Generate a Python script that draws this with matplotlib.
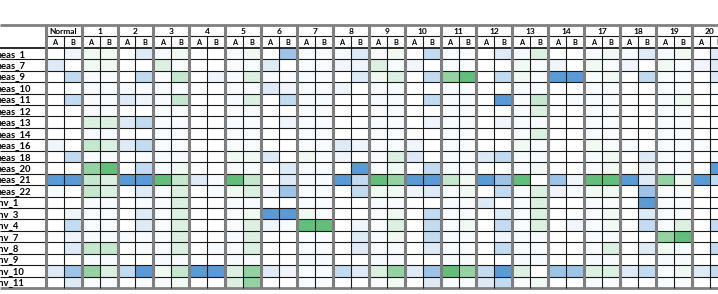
import numpy as np
import matplotlib
matplotlib.use("Agg")
import matplotlib.pyplot as plt
from matplotlib.colors import LinearSegmentedColormap, Normalize

# ---- data -------------------------------------------------------------
groups = ["Normal", "1", "2", "3", "4", "5", "6", "7", "8", "9", "10",
          "11", "12", "13", "14", "17", "18", "19", "20"]
subcols = ["A", "B"]
rows = ["meas_1", "meas_7", "meas_9", "meas_10", "meas_11", "meas_12",
        "meas_13", "meas_14", "meas_16", "meas_18", "meas_20", "meas_21",
        "meas_22", "env_1", "env_3", "env_4", "env_7", "env_8", "env_9",
        "env_10", "env_11"]

# value levels (negative = blue scale, positive = green scale)
W = 0.0; F = -0.04
b1 = -0.10; b2 = -0.20; b3 = -0.36; b4 = -0.60; b5 = -1.0
g1 = 0.10; g2 = 0.23; g3 = 0.37; g4 = 0.68; g5 = 1.0

#            Normal   1       2       3       4       5       6       7       8       9       10      11      12      13      14      17      18      19      20
meas_1  = [W, b1, g1, g1, W, b2, F, g1, W, W, F, g1, W, b4, F, F, F, b2, F, g1, W, b3, F, F, W, b2, F, g2, W, W, F, g1, F, b2, F, g1, W, b2]
meas_7  = [b2, W, g1, g1, W, W, g2, F, W, W, F, F, b2, W, F, F, b1, b1, g2, F, b1, W, F, F, W, W, g1, F, b1, W, g1, F, b1, W, g1, F, b1, b2]
meas_9  = [W, b3, F, F, W, b3, F, g3, W, b1, F, g2, F, F, F, F, W, b2, g1, g2, W, b3, g4, g5, W, b3, g1, F, b5, b5, F, g1, W, b3, F, F, W, b2]
meas_10 = [W, W, F, F, F, F, F, F, W, W, F, F, b2, b1, F, F, b1, W, F, F, W, W, F, F, W, W, F, F, W, W, F, F, W, W, F, F, W, F]
meas_11 = [W, b3, F, F, b2, b1, F, g3, W, W, F, g2, W, b3, F, F, W, W, F, F, W, b3, F, F, W, b5, F, g3, W, F, F, F, W, W, F, g1, W, W]
meas_12 = [W, W, F, F, W, W, F, F, W, W, F, F, W, W, F, F, W, W, F, F, W, W, F, F, W, W, F, g2, W, W, F, F, W, W, F, F, W, W]
meas_13 = [W, W, g2, g2, b2, b3, F, F, W, W, F, F, W, b1, F, F, W, W, F, F, W, b1, F, F, W, b1, F, F, W, W, F, F, W, W, F, F, W, W]
meas_14 = [W, W, F, F, W, W, F, F, W, W, F, F, W, W, F, F, W, W, F, F, W, W, F, F, W, W, F, g2, W, W, F, F, W, W, F, F, W, W]
meas_16 = [b1, W, g3, g2, b2, b3, F, F, W, W, F, F, W, W, F, F, b2, b1, F, F, b1, W, F, F, W, W, g1, F, W, W, g1, F, F, W, F, F, F, W]
meas_18 = [W, b3, F, F, W, F, F, F, W, W, g1, g1, b2, W, g1, F, b1, W, F, g2, b2, W, F, F, b2, b3, F, F, W, W, F, g1, W, b2, F, F, W, F]
meas_20 = [W, W, g4, g5, W, b3, F, g1, W, W, F, F, W, b2, F, F, W, b5, F, g1, W, b3, F, F, W, W, F, g1, W, W, F, g1, W, b1, F, F, W, b5]
meas_21 = [b5, b5, g3, g2, b5, b5, g5, g3, b2, F, g5, g3, W, b2, F, F, b5, b3, g5, g4, b5, b5, g3, g1, b5, b4, g5, W, b4, b1, g5, g5, b5, b2, g4, g1, b5, b3]
meas_22 = [F, W, g3, g2, W, b2, F, g2, W, F, g1, g2, b1, b4, F, F, W, b3, g1, g1, b1, b2, F, g1, W, b3, F, g2, b1, F, g1, g1, W, b4, F, F, W, W]
env_1   = [W, W, F, F, W, F, F, g2, W, W, F, F, W, W, F, F, W, W, F, F, W, W, F, F, b2, W, F, g2, W, W, F, F, W, b5, F, F, W, W]
env_3   = [W, b1, F, F, W, b2, F, g2, W, W, F, g1, b5, b5, g1, F, W, W, F, g1, W, b3, F, F, W, b2, F, g2, W, W, F, g1, W, b2, F, F, W, W]
env_4   = [W, b3, F, F, W, b2, F, g2, W, W, F, g2, b1, F, g5, g5, W, b1, F, g2, W, b3, F, g1, W, b3, F, g2, W, b1, F, g1, W, b3, F, g2, W, b3]
env_7   = [W, b1, F, F, F, F, F, g2, W, W, F, g2, W, W, F, F, W, b2, F, g1, W, b3, F, F, W, b1, F, F, W, W, F, F, W, W, g4, g5, W, W]
env_8   = [W, b2, g3, g3, W, F, F, g2, W, F, F, g2, W, W, F, F, W, b2, F, F, W, b2, F, F, W, b3, F, F, W, W, F, g2, W, b2, g1, F, W, b3]
env_9   = [W, W, F, F, W, W, F, F, W, W, F, F, W, W, F, F, W, W, F, F, W, W, F, F, W, W, F, F, W, W, F, F, W, W, F, F, W, W]
env_10  = [b2, b4, g4, g2, b3, b5, g1, g3, b5, b5, g2, g4, b2, b1, F, F, b3, b2, g2, g4, b2, b4, g5, g4, b3, b5, g2, W, b4, b4, g2, g2, b2, b3, F, g1, b2, b3]
env_11  = [W, b2, F, F, W, F, F, g1, W, W, g2, g4, W, W, F, F, W, W, F, g1, W, b2, F, F, b2, b3, F, g1, W, W, F, F, W, W, F, F, W, W]

values = np.array([meas_1, meas_7, meas_9, meas_10, meas_11, meas_12, meas_13,
                   meas_14, meas_16, meas_18, meas_20, meas_21, meas_22, env_1,
                   env_3, env_4, env_7, env_8, env_9, env_10, env_11])

# ---- layout -----------------------------------------------------------
FW, FH, DPI = 718, 294, 100
left_px, top_px, bottom_px = 45.7, 25.0, 288.0
col_px = 17.95
ncols = values.shape[1]
nrows = values.shape[0]

fig = plt.figure(figsize=(FW / DPI, FH / DPI), dpi=DPI)
ax = fig.add_axes([left_px / FW, (FH - bottom_px) / FH,
                   ncols * col_px / FW, (bottom_px - top_px) / FH])
ax.set_xlim(0, ncols)
ax.set_ylim(nrows, -2)
ax.axis("off")

cmap = LinearSegmentedColormap.from_list(
    "bw_g", [(0.0, "#5B9BD5"), (0.5, "#FFFFFF"), (1.0, "#63BE7B")])
ax.pcolormesh(np.arange(ncols + 1), np.arange(nrows + 1), values,
              cmap=cmap, norm=Normalize(-1, 1), shading="flat")

x0 = -left_px / col_px  # figure left edge in data units

font = "Lato"
for g, name in enumerate(groups):
    ax.text(2 * g + 1, -1.45, name, ha="center", va="center",
            fontsize=6.0, fontweight="bold", family=font, clip_on=False)
for j in range(ncols):
    ax.text(j + 0.5, -0.45, subcols[j % 2], ha="center", va="center",
            fontsize=5.3, fontweight="bold", family=font, clip_on=False)
for i, r in enumerate(rows):
    ax.text(x0 - 6.5 / col_px, i + 0.55, r, ha="left", va="center",
            fontsize=6.8, fontweight="bold", family=font, clip_on=False)

black = "#1a1a1a"
gray = "#7f7f7f"
# horizontal lines
ax.hlines(np.arange(1, nrows), x0, ncols, color=black, lw=0.8, clip_on=False)
ax.hlines([0], x0, ncols, color=black, lw=1.3, clip_on=False)
ax.hlines([-1], 0, ncols, color=black, lw=0.8, clip_on=False)
ax.hlines([-2, nrows], x0, ncols, color=gray, lw=2.0, clip_on=False)
# vertical lines
ax.vlines(np.arange(1, ncols, 2), -1, nrows, color=black, lw=0.8, clip_on=False)
ax.vlines(np.arange(0, ncols + 1, 2), -2, nrows, color=gray, lw=2.2, clip_on=False)

fig.savefig("out.png", dpi=DPI)
